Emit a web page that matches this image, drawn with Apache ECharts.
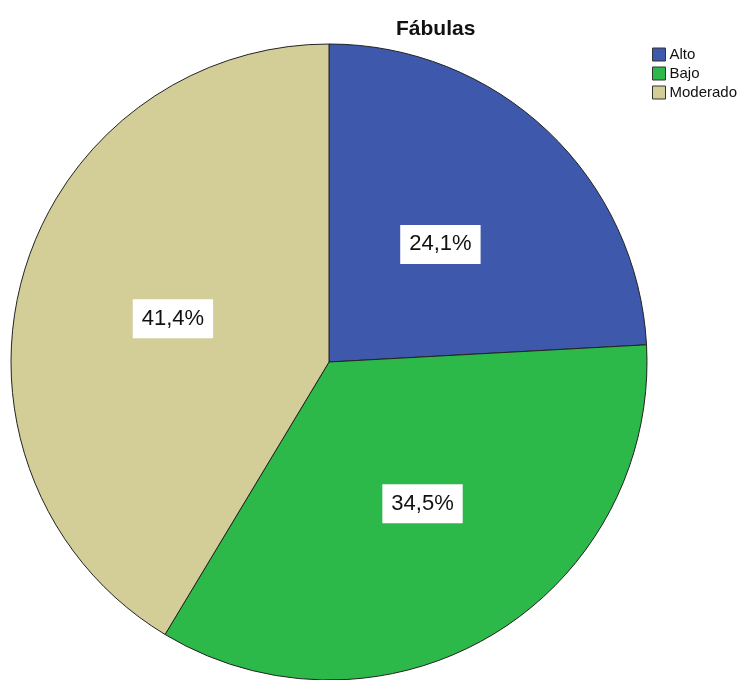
<!DOCTYPE html>
<html>
<head>
<meta charset="utf-8">
<script src="https://cdn.jsdelivr.net/npm/echarts@6/dist/echarts.min.js"></script>
<style>
html, body { margin: 0; padding: 0; background: #fff; }
#chart { width: 739px; height: 680px; }
</style>
</head>
<body>
<div id="chart"></div>
<script>
// datos del gráfico
var categories = ['Alto', 'Bajo', 'Moderado'];
var counts = [7, 10, 12];
var percentLabels = ['24,1%', '34,5%', '41,4%'];
var colors = ['#3e58ac', '#2db84a', '#d3ce98'];

var myChart = echarts.init(document.getElementById('chart'));

var data = categories.map(function (c, i) {
    return { name: c, value: counts[i], itemStyle: { color: colors[i] } };
});
// la etiqueta de Bajo está un poco desplazada en el original
data[1].label = { offset: [10, 3] };

myChart.setOption({
    animation: false,
    title: {
        text: 'Fábulas',
        left: 391,
        top: 14,
        textStyle: {
            fontFamily: 'Liberation Sans, Arial, sans-serif',
            fontSize: 21,
            fontWeight: 'bold',
            color: '#111'
        }
    },
    legend: {
        orient: 'vertical',
        left: 652,
        top: 47,
        padding: 0,
        itemWidth: 13,
        itemHeight: 13,
        itemGap: 4,
        icon: 'rect',
        textStyle: {
            fontFamily: 'Liberation Sans, Arial, sans-serif',
            fontSize: 15,
            color: '#111',
            padding: [0, 0, 0, -1]
        },
        itemStyle: { borderColor: '#333', borderWidth: 1 },
        data: categories
    },
    series: [
        {
            type: 'pie',
            center: [329, 362],
            radius: 318,
            startAngle: 90,
            clockwise: true,
            data: data,
            itemStyle: {
                borderColor: '#222',
                borderWidth: 1
            },
            label: {
                show: true,
                position: 'inside',
                formatter: function (p) { return percentLabels[p.dataIndex]; },
                fontFamily: 'Liberation Sans, Arial, sans-serif',
                fontSize: 22,
                color: '#111',
                backgroundColor: '#fff',
                padding: [9, 9, 8, 9]
            },
            labelLine: { show: false },
            emphasis: { disabled: true }
        }
    ]
});
</script>
</body>
</html>
